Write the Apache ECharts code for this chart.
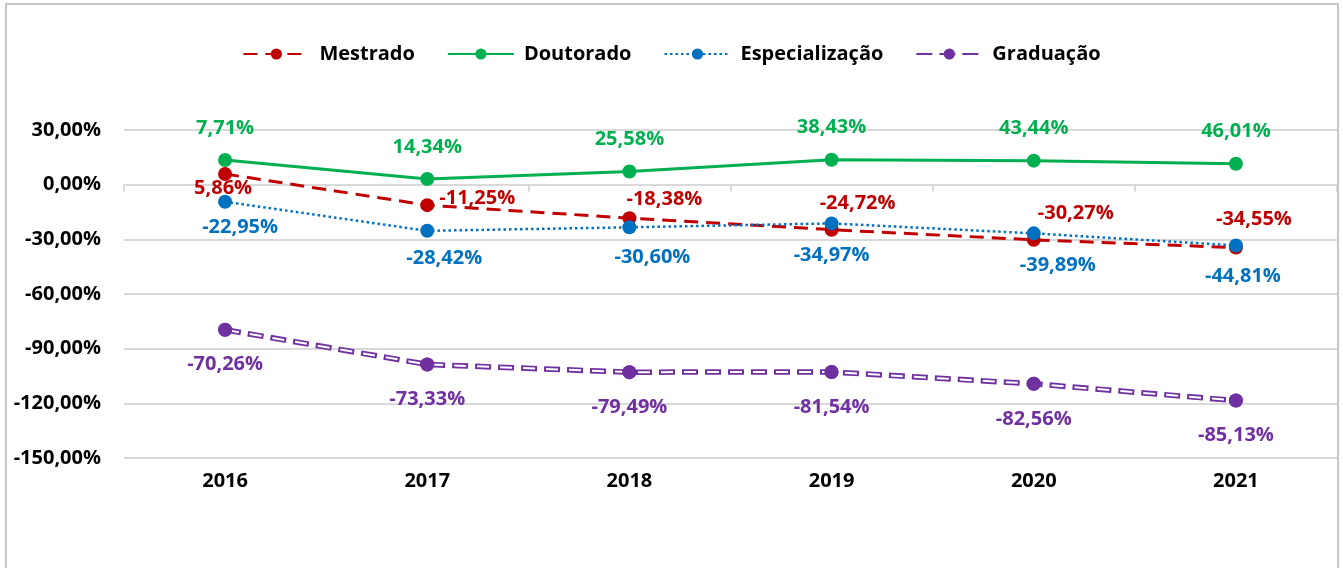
<!DOCTYPE html>
<html>
<head>
<meta charset="utf-8">
<script src="https://cdn.jsdelivr.net/npm/echarts@6/dist/echarts.min.js"></script>
<style>
html, body { margin: 0; padding: 0; background: #fff; overflow: hidden; }
#chart { width: 1343px; height: 568px; }
.frame {
  position: absolute; left: 5px; top: 3px; width: 1330px; height: 620px;
  border: 2px solid #c6c6c6; pointer-events: none;
}
</style>
</head>
<body>
<div id="chart"></div>
<div class="frame"></div>
<script>
// dados (variação %), empilhados como no gráfico original
const anos = ['2016', '2017', '2018', '2019', '2020', '2021'];
const mestrado = [5.86, -11.25, -18.38, -24.72, -30.27, -34.55];
const doutorado = [7.71, 14.34, 25.58, 38.43, 43.44, 46.01];
const especializacao = [-22.95, -28.42, -30.60, -34.97, -39.89, -44.81];
const graduacao = [-70.26, -73.33, -79.49, -81.54, -82.56, -85.13];

// deslocamento dos rótulos (px)
const offMestrado = [[-2, 14], [50, -7], [35, -19], [26, -26], [42, -27], [18, -28]];
const offEspec = [[15, 26], [17, 27], [23, 30], [0, 32], [24, 32], [7, 31]];

const FONT = 'Open Sans';
const fmt = v => v.toFixed(2).replace('.', ',') + '%';

function withLabels(values, offsets) {
  return values.map((v, i) => offsets ? { value: v, label: { offset: offsets[i] } } : v);
}

function lbl(color, offset) {
  return {
    show: true, position: 'inside', offset: offset, color: color,
    fontFamily: FONT, fontWeight: 'bold', fontSize: 20,
    textBorderWidth: 0,
    formatter: p => fmt(p.value)
  };
}

// linha branca central da Graduação (linha dupla)
const topoGrad = anos.map((_, i) => mestrado[i] + doutorado[i] + especializacao[i] + graduacao[i]);

const chart = echarts.init(document.getElementById('chart'));
chart.setOption({
  animation: false,
  textStyle: { fontFamily: FONT },
  legend: {
    data: ['Mestrado', 'Doutorado', 'Especialização', 'Graduação'],
    top: 39, left: 'center',
    itemWidth: 66, itemHeight: 14, itemGap: 32,
    textStyle: { fontFamily: FONT, fontWeight: 'bold', fontSize: 20, color: '#000', padding: [0, 0, 0, 5] }
  },
  grid: { left: 124, right: 6, top: 130, bottom: 110 },
  xAxis: [
    {
      type: 'category', data: anos, position: 'bottom',
      axisLine: { show: false, onZero: false },
      axisTick: { show: false },
      axisLabel: { margin: 13, color: '#000', fontFamily: FONT, fontWeight: 'bold', fontSize: 20 }
    },
    {
      type: 'category', data: anos,
      axisLine: { onZero: true, lineStyle: { color: '#d9d9d9', width: 2 } },
      axisTick: { show: true, inside: true, length: 7, lineStyle: { color: '#d9d9d9', width: 2 } },
      axisLabel: { show: false }
    }
  ],
  yAxis: {
    type: 'value', min: -150, max: 30, interval: 30,
    axisLine: { show: false }, axisTick: { show: false },
    splitLine: { lineStyle: { color: '#d9d9d9', width: 2 } },
    axisLabel: { margin: 23, color: '#000', fontFamily: FONT, fontWeight: 'bold', fontSize: 20, formatter: fmt }
  },
  series: [
    {
      name: 'Mestrado', type: 'line', stack: 'total', stackStrategy: 'all',
      data: withLabels(mestrado, offMestrado),
      symbol: 'circle', symbolSize: 14,
      itemStyle: { color: '#C00000' },
      lineStyle: { color: '#C00000', width: 3, type: [14, 8] },
      label: lbl('#C00000', [0, 0])
    },
    {
      name: 'Doutorado', type: 'line', stack: 'total', stackStrategy: 'all',
      data: doutorado,
      symbol: 'circle', symbolSize: 14,
      itemStyle: { color: '#00B050' },
      lineStyle: { color: '#00B050', width: 3 },
      label: lbl('#00B050', [0, -32])
    },
    {
      name: 'Especialização', type: 'line', stack: 'total', stackStrategy: 'all',
      data: withLabels(especializacao, offEspec),
      symbol: 'circle', symbolSize: 14,
      itemStyle: { color: '#0070C0' },
      lineStyle: { color: '#0070C0', width: 2.5, type: [2.5, 3] },
      label: lbl('#0070C0', [0, 0])
    },
    {
      name: 'Graduação', type: 'line', stack: 'total', stackStrategy: 'all',
      data: graduacao,
      symbol: 'circle', symbolSize: 14,
      itemStyle: { color: '#7030A0' },
      lineStyle: { color: '#7030A0', width: 5.5, type: [16, 7] },
      label: lbl('#7030A0', [0, 35])
    },
    {
      name: 'grad-miolo', type: 'line', xAxisIndex: 0,
      data: topoGrad, silent: true,
      symbol: 'circle', symbolSize: 14,
      itemStyle: { color: '#7030A0' },
      lineStyle: { color: '#ffffff', width: 2, type: [12, 11], dashOffset: -2 },
      label: { show: false }
    }
  ]
});
</script>
</body>
</html>
